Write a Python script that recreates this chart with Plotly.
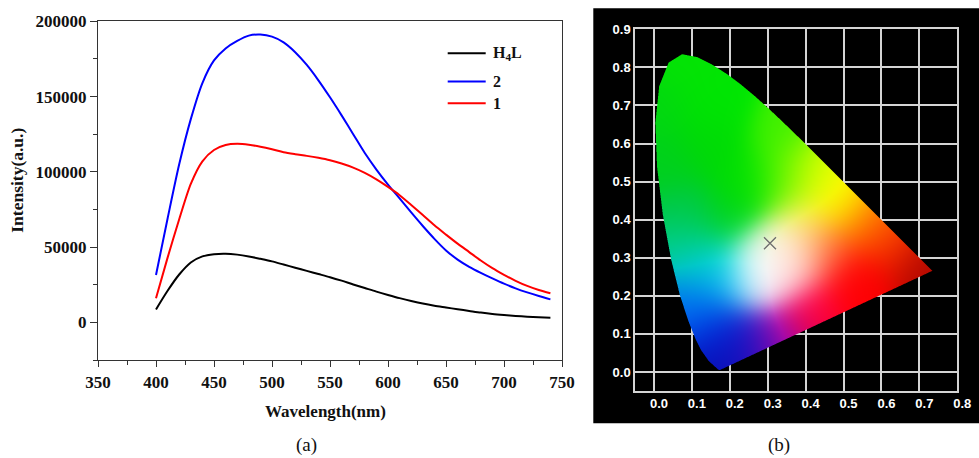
import base64
import struct
import zlib

import numpy as np
import plotly.graph_objects as go

# ---------------- (a) emission spectra ----------------
WAVELENGTH = [400, 410, 420, 430, 440, 450, 460, 470, 480, 490,
              500, 510, 520, 530, 540, 550, 560, 570, 580, 590,
              600, 610, 620, 630, 640, 650, 660, 670, 680, 690,
              700, 710, 720, 730, 740]

H4L = [8600, 21000, 31800, 39800, 43800, 45300, 45600, 45000, 43800, 42200,
       40500, 38400, 36300, 34200, 32100, 30000, 27700, 25200, 22800, 20400,
       18200, 16100, 14200, 12500, 11100, 9900, 8700, 7600, 6500, 5600,
       4900, 4300, 3800, 3400, 3100]

CPD2 = [31500, 69000, 105000, 135000, 159000, 174000, 182000, 187000, 190500, 191200,
        189800, 186000, 179500, 171000, 160800, 149500, 137500, 125000, 112500, 101500,
        91500, 82300, 73000, 64000, 55500, 47800, 41700, 36900, 32900, 29200,
        25700, 22600, 19900, 17500, 15300]

CPD1 = [16000, 43000, 68500, 92000, 107000, 114500, 117800, 118600, 118000, 116700,
        115000, 113000, 111700, 110600, 109300, 107700, 105500, 102800, 99300, 95000,
        90000, 84500, 78000, 71300, 64500, 58300, 52300, 46700, 41100, 36000,
        31600, 27600, 24200, 21500, 19300]

SERIES = [("H<sub>4</sub>L", H4L, "#000000"),
          ("2", CPD2, "#0000ff"),
          ("1", CPD1, "#ff0000")]

# ---------------- (b) CIE 1931 chromaticity ----------------
# spectral locus, 380-700 nm
LOCUS_X = [0.1741, 0.1738, 0.1733, 0.1726, 0.1714, 0.1689, 0.1644, 0.1566, 0.1440,
           0.1241, 0.1096, 0.0913, 0.0687, 0.0454, 0.0235, 0.0082, 0.0039, 0.0139,
           0.0389, 0.0743, 0.1142, 0.1547, 0.1929, 0.2296, 0.2658, 0.3016, 0.3373,
           0.3731, 0.4087, 0.4441, 0.4788, 0.5125, 0.5448, 0.5752, 0.6029, 0.6270,
           0.6658, 0.6915, 0.7079, 0.7190, 0.7260, 0.7300, 0.7320, 0.7347]
LOCUS_Y = [0.0050, 0.0049, 0.0048, 0.0048, 0.0051, 0.0069, 0.0109, 0.0177, 0.0297,
           0.0578, 0.0868, 0.1327, 0.2007, 0.2950, 0.4127, 0.5384, 0.6548, 0.7502,
           0.8120, 0.8338, 0.8262, 0.8059, 0.7816, 0.7543, 0.7243, 0.6923, 0.6589,
           0.6245, 0.5896, 0.5547, 0.5202, 0.4866, 0.4544, 0.4242, 0.3965, 0.3725,
           0.3340, 0.3083, 0.2920, 0.2809, 0.2740, 0.2700, 0.2680, 0.2653]

# chromaticity coordinates of the emission
CIE_POINT_X = [0.306]
CIE_POINT_Y = [0.338]

CIE_X_RANGE = [-0.05, 0.8]
CIE_Y_RANGE = [-0.05, 0.9]

# colour anchors used to shade the gamut: (x, y, R, G, B)
GAMUT_SHADES = [
    (0.28, 0.27, 255, 255, 255),
    (0.31, 0.295, 255, 255, 255),
    (0.25, 0.235, 250, 250, 255),
    (0.345, 0.315, 255, 240, 230),
    (0.36, 0.265, 255, 228, 228),
    (0.08, 0.80, 15, 228, 15),
    (0.16, 0.70, 0, 230, 10),
    (0.15, 0.60, 0, 218, 20),
    (0.24, 0.50, 0, 222, 10),
    (0.02, 0.70, 10, 215, 40),
    (0.04, 0.55, 0, 208, 55),
    (0.20, 0.40, 10, 212, 60),
    (0.08, 0.42, 0, 200, 100),
    (0.08, 0.33, 0, 205, 160),
    (0.13, 0.28, 0, 210, 200),
    (0.18, 0.24, 0, 205, 245),
    (0.10, 0.19, 0, 155, 245),
    (0.14, 0.14, 0, 110, 235),
    (0.19, 0.09, 15, 55, 210),
    (0.18, 0.03, 20, 30, 175),
    (0.26, 0.07, 90, 30, 190),
    (0.33, 0.09, 175, 15, 170),
    (0.42, 0.16, 255, 0, 95),
    (0.54, 0.23, 255, 0, 10),
    (0.71, 0.275, 175, 20, 0),
    (0.63, 0.34, 250, 80, 0),
    (0.58, 0.40, 255, 160, 0),
    (0.46, 0.31, 255, 140, 95),
    (0.39, 0.40, 255, 245, 140),
    (0.50, 0.46, 255, 255, 0),
    (0.42, 0.53, 230, 255, 0),
    (0.33, 0.50, 130, 245, 0),
    (0.33, 0.62, 100, 240, 0),
]
SHADE_SIGMA = 0.06
SHADE_VIVID = 1.5

W, H = 979, 458


def px_x(p):
    return p / W


def px_y(p):
    return 1 - p / H


def inside_polygon(X, Y, xs, ys):
    inside = np.zeros(X.shape, dtype=bool)
    n = len(xs)
    j = n - 1
    for i in range(n):
        xi, yi, xj, yj = xs[i], ys[i], xs[j], ys[j]
        cross = (yi > Y) != (yj > Y)
        xint = (xj - xi) * (Y - yi) / ((yj - yi) if yj != yi else 1e-12) + xi
        inside ^= cross & (X < xint)
        j = i
    return inside


def gamut_rgba(nx, ny, ss=3):
    x0, x1 = CIE_X_RANGE
    y0, y1 = CIE_Y_RANGE
    sx, sy = (x1 - x0) / nx, (y1 - y0) / ny
    xs = x0 + (np.arange(nx * ss) + 0.5) * sx / ss
    ys = y0 + (np.arange(ny * ss) + 0.5) * sy / ss
    Xs, Ys = np.meshgrid(xs, ys)
    cover = inside_polygon(Xs, Ys, LOCUS_X, LOCUS_Y).astype(float)
    cover = cover.reshape(ny, ss, nx, ss).mean(axis=(1, 3))

    xc = x0 + (np.arange(nx) + 0.5) * sx
    yc = y0 + (np.arange(ny) + 0.5) * sy
    Xc, Yc = np.meshgrid(xc, yc)
    anc = np.array(GAMUT_SHADES, dtype=float)
    d2 = (Xc[..., None] - anc[:, 0]) ** 2 + (Yc[..., None] - anc[:, 1]) ** 2
    d2 -= d2.min(axis=-1, keepdims=True)
    w = np.exp(-d2 / (2 * SHADE_SIGMA ** 2))
    rgb = (w @ anc[:, 2:5]) / w.sum(axis=-1, keepdims=True) / 255.0
    # restore saturation lost by blending: push channels away from the brightest one
    top = rgb.max(axis=-1, keepdims=True) + 1e-9
    rgb = top * (rgb / top) ** SHADE_VIVID
    rgba = np.concatenate([rgb, cover[..., None]], axis=-1)
    return (np.clip(rgba, 0, 1) * 255).round().astype(np.uint8), sx, sy


def png_uri(rgba):
    h, w, _ = rgba.shape
    raw = b"".join(b"\x00" + rgba[i].tobytes() for i in range(h))

    def chunk(tag, data):
        body = tag + data
        return struct.pack(">I", len(data)) + body + struct.pack(">I", zlib.crc32(body) & 0xFFFFFFFF)

    png = (b"\x89PNG\r\n\x1a\n"
           + chunk(b"IHDR", struct.pack(">IIBBBBB", w, h, 8, 6, 0, 0, 0))
           + chunk(b"IDAT", zlib.compress(raw, 9))
           + chunk(b"IEND", b""))
    return "data:image/png;base64," + base64.b64encode(png).decode()


fig = go.Figure()

for name, vals, color in SERIES:
    fig.add_trace(go.Scatter(x=WAVELENGTH, y=vals, name=name, mode="lines",
                             line=dict(color=color, width=2, shape="spline", smoothing=0.8),
                             showlegend=False, hoverinfo="skip", xaxis="x", yaxis="y"))

img, sx, sy = gamut_rgba(322, 362)
fig.add_trace(go.Image(source=png_uri(img), x0=CIE_X_RANGE[0] + sx / 2, dx=sx,
                       y0=CIE_Y_RANGE[0] + sy / 2, dy=sy,
                       xaxis="x2", yaxis="y2", hoverinfo="skip"))
fig.add_trace(go.Scatter(x=CIE_POINT_X, y=CIE_POINT_Y, mode="markers",
                         marker=dict(symbol="x-thin", size=12,
                                     line=dict(color="#6e6e6e", width=1.3)),
                         showlegend=False, hoverinfo="skip", xaxis="x2", yaxis="y2"))

SERIF = "Liberation Serif, Times New Roman, serif"
SANS = "Liberation Sans Narrow, Liberation Sans, Arial"
serif_b = dict(family=SERIF, size=17, color="#111", weight="bold")
sans_b = dict(family=SANS, size=13, color="white", weight="bold")
frame = "#333333"
grid = "#d4d4d4"

fig.update_layout(
    width=W, height=H,
    margin=dict(l=0, r=0, t=0, b=0, pad=0, autoexpand=False),
    paper_bgcolor="white",
    plot_bgcolor="rgba(0,0,0,0)",
    showlegend=False,
    xaxis=dict(domain=[px_x(98), px_x(562)], range=[350, 750], anchor="y", automargin=False,
               tick0=350, dtick=50, ticks="outside", ticklen=6, tickwidth=1.3, tickcolor=frame,
               minor=dict(ticks="outside", ticklen=3.5, tickwidth=1.3, tickcolor=frame, dtick=25, tick0=350),
               showline=True, linecolor=frame, linewidth=1.3, mirror=True,
               showgrid=False, zeroline=False, tickfont=serif_b),
    yaxis=dict(domain=[px_y(360), px_y(21.3)], range=[-25000, 200000], anchor="x", automargin=False,
               tick0=0, dtick=50000, tickformat="d", ticks="outside", ticklen=7, tickwidth=1.3,
               tickcolor=frame, ticklabelstandoff=0,
               minor=dict(ticks="outside", ticklen=4, tickwidth=1.3, tickcolor=frame, dtick=25000, tick0=0),
               showline=True, linecolor=frame, linewidth=1.3, mirror=True,
               showgrid=False, zeroline=False, tickfont=serif_b),
    xaxis2=dict(domain=[px_x(635), px_x(957.3)], range=CIE_X_RANGE, anchor="y2", automargin=False,
                tick0=0, dtick=0.1, tickformat=".1f", ticks="", ticklabelshift=5,
                showgrid=True, gridcolor=grid, gridwidth=1.5,
                showline=True, linecolor=grid, linewidth=1.5, mirror=True, zeroline=False,
                tickfont=sans_b),
    yaxis2=dict(domain=[px_y(391), px_y(29.3)], range=CIE_Y_RANGE, anchor="x2", automargin=False,
                scaleanchor=False,
                tick0=0, dtick=0.1, tickformat=".1f", ticks="",
                showgrid=True, gridcolor=grid, gridwidth=1.5,
                showline=True, linecolor=grid, linewidth=1.5, mirror=True, zeroline=False,
                tickfont=sans_b),
)

# black backdrop of the chromaticity panel
fig.add_shape(type="rect", xref="paper", yref="paper",
              x0=px_x(593.3), x1=1.0, y0=px_y(423.3), y1=px_y(8.3),
              fillcolor="black", line=dict(width=0), layer="below")

# legend of panel (a)
legend_y = [53.3, 81.5, 103.3]
for (name, _, color), ly in zip(SERIES, legend_y):
    fig.add_shape(type="line", xref="paper", yref="paper",
                  x0=px_x(447.7), x1=px_x(485.7), y0=px_y(ly), y1=px_y(ly),
                  line=dict(color=color, width=2))
    fig.add_annotation(x=px_x(491), y=px_y(ly), xref="paper", yref="paper",
                       xanchor="left", yanchor="middle", text=name, showarrow=False,
                       font=dict(family=SERIF, size=16, color="#111", weight="bold"))

fig.add_annotation(x=px_x(16.7), y=px_y(180), xref="paper", yref="paper", text="Intensity(a.u.)",
                   textangle=-90, showarrow=False, xanchor="center", yanchor="middle",
                   font=dict(family=SERIF, size=17.5, color="#111", weight="bold"))
fig.add_annotation(x=px_x(325), y=px_y(411.7), xref="paper", yref="paper", text="Wavelength(nm)",
                   showarrow=False, xanchor="center", yanchor="middle",
                   font=dict(family=SERIF, size=17, color="#111", weight="bold"))
for label, cx in (("(a)", 306.5), ("(b)", 779)):
    fig.add_annotation(x=px_x(cx), y=px_y(445), xref="paper", yref="paper", text=label,
                       showarrow=False, xanchor="center", yanchor="middle",
                       font=dict(family=SERIF, size=19, color="#111"))

fig.write_html("out.html")
